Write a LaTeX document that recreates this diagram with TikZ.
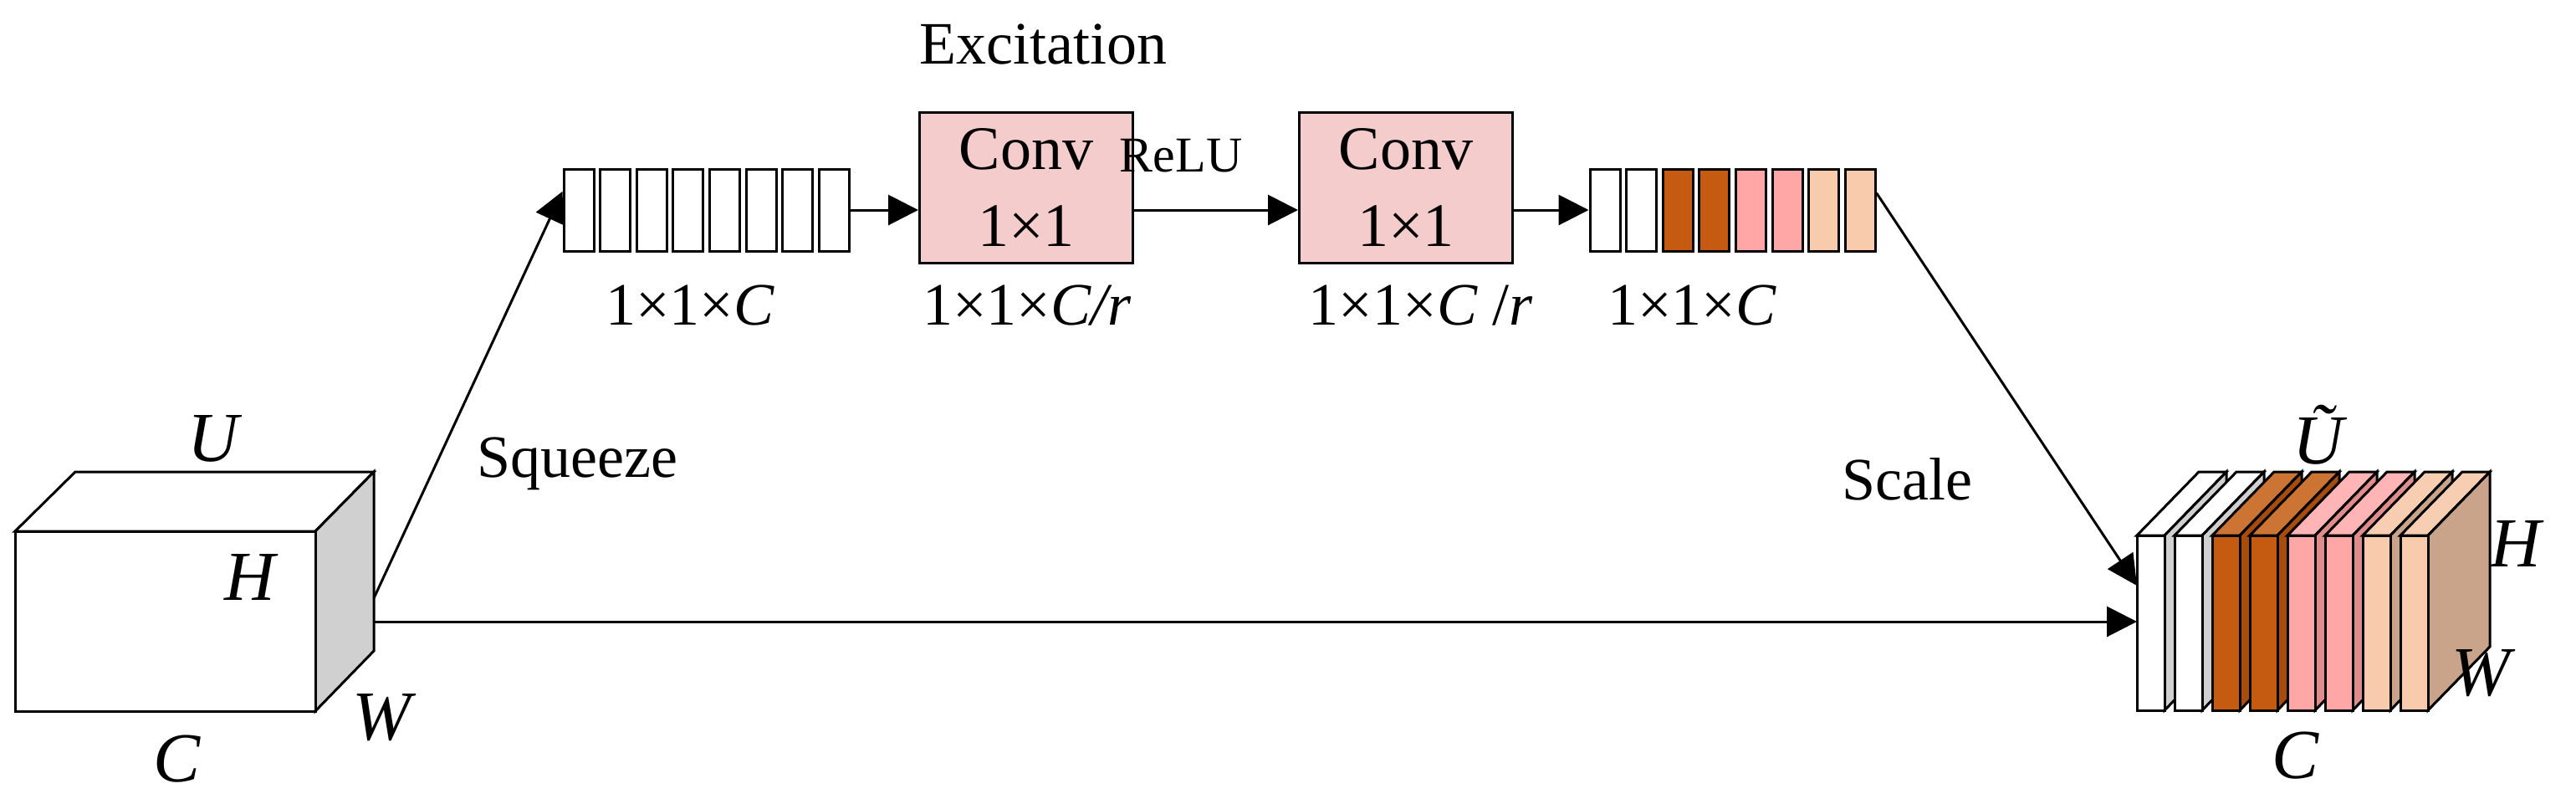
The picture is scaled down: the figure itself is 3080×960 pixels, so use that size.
\documentclass[tikz,border=0pt]{standalone}
\usepackage{fontspec}
\setmainfont{Liberation Serif}
\usetikzlibrary{arrows.meta,calc}
\definecolor{convfill}{HTML}{F4CCCC}
\definecolor{brownF}{HTML}{C55A11}
\definecolor{brownS}{HTML}{A84C0E}
\definecolor{brownT}{HTML}{CC7434}
\definecolor{pinkF}{HTML}{FFA7A7}
\definecolor{pinkS}{HTML}{DF8C8C}
\definecolor{pinkT}{HTML}{FFB5B5}
\definecolor{peachF}{HTML}{F8CBAD}
\definecolor{peachS}{HTML}{C9A48B}
\definecolor{peachT}{HTML}{F8CEB2}
\definecolor{greyS}{HTML}{D0D0D0}
\begin{document}
\begin{tikzpicture}[x=0.5pt,y=-0.5pt,
  line width=1.5pt, line join=miter,
  arr/.style={-{Triangle[length=18pt,width=18pt]}},
  barbox/.style={draw, inner sep=0, minimum width=18pt, minimum height=49pt},
  convbox/.style={draw, fill=convfill, inner sep=0, minimum width=127.5pt, minimum height=90pt, align=center, font=\fontsize{37}{46}\selectfont},
  lbl/.style={font=\fontsize{36}{40}\selectfont, inner sep=0},
  dim/.style={font=\fontsize{42}{46}\selectfont\itshape, inner sep=0}]
\useasboundingbox (0,0) rectangle (3080,960);

% ---- left cube
\draw[fill=white] (18,635) -- (90,564) -- (447,564) -- (377,635) -- cycle;
\draw[fill=greyS] (377,635) -- (447,564) -- (447,778) -- (377,850) -- cycle;
\draw[fill=white] (18,635) rectangle (377,850);
\coordinate (cubeS) at (447,715);
\coordinate (cubeR) at (447,743);
\node[dim] (lU) at (255,524) {U};
\node[dim] (lH) at (299,690) {H};
\node[dim] (lC) at (212,907) {C};
\node[dim] (lW) at (456,858) {W};

% ---- top bars 1
\foreach \i in {1,...,8}{
  \node[barbox] (a\i) at ({674+18+(\i-1)*43.6},251) {};
}
% ---- conv boxes
\node[convbox] (c1) at (1227,224) {Conv\\1×1};
\node[convbox] (c2) at (1681,224) {Conv\\1×1};
% ---- top bars 2
\foreach \i/\col in {1/white,2/white,3/brownF,4/brownF,5/pinkF,6/pinkF,7/peachF,8/peachF}{
  \node[barbox, fill=\col] (d\i) at ({1901+18+(\i-1)*43.6},251) {};
}

\node[lbl] (exc) at (1247,53) {Excitation};
\node[lbl, font=\fontsize{30}{34}\selectfont] (relu) at (1412,186) {ReLU};
\node[lbl] (t1) at (825,365) {1×1×\textit{C}};
\node[lbl] (t2) at (1228,365) {1×1×\textit{C/r}};
\node[lbl] (t3) at (1699,365) {1×1×\textit{C} /\textit{r}};
\node[lbl] (t4) at (2023,365) {1×1×\textit{C}};
\node[lbl] (sq) at (690,554) {Squeeze};
\node[lbl] (sc) at (2280,573) {Scale};

% ---- right stack
\foreach \i/\f/\s/\t in {0/white/greyS/white,1/white/greyS/white,2/brownF/brownS/brownT,3/brownF/brownS/brownT,4/pinkF/pinkS/pinkT,5/pinkF/pinkS/pinkT,6/peachF/peachS/peachT,7/peachF/peachS/peachT}{
  \pgfmathsetmacro{\xl}{2555+45*\i}
  \pgfmathsetmacro{\xr}{\xl+33}
  \draw[fill=\t] (\xl,640) -- ({\xl+74},564) -- ({\xr+74},564) -- (\xr,640) -- cycle;
  \draw[fill=\s] (\xr,640) -- ({\xr+74},564) -- ({\xr+74},773) -- (\xr,849) -- cycle;
  \draw[fill=\f] (\xl,640) rectangle (\xr,849);
}
\coordinate (stkS) at (2555,700);
\coordinate (stkR) at (2555,743);
\node[dim] (rU) at (2772,520) {\~{U}};
\node[dim] (rH) at (3008,650) {H};
\node[dim] (rC) at (2744,903) {C};
\node[dim] (rW) at (2966,805) {W};

% ---- connectors
\draw[arr] (cubeS) -- ($(a1.south west)!0.72!(a1.north west)$);
\draw[arr] (a8.east) -- (a8.east -| c1.west);
\draw[arr] (c1.east |- a8.east) -- (a8.east -| c2.west);
\draw[arr] (c2.east |- a8.east) -- (d1.west);
\draw[arr] ($(d8.north east)!0.3!(d8.south east)$) -- (stkS);
\draw[arr] (cubeR) -- (stkR);
\end{tikzpicture}
\end{document}
